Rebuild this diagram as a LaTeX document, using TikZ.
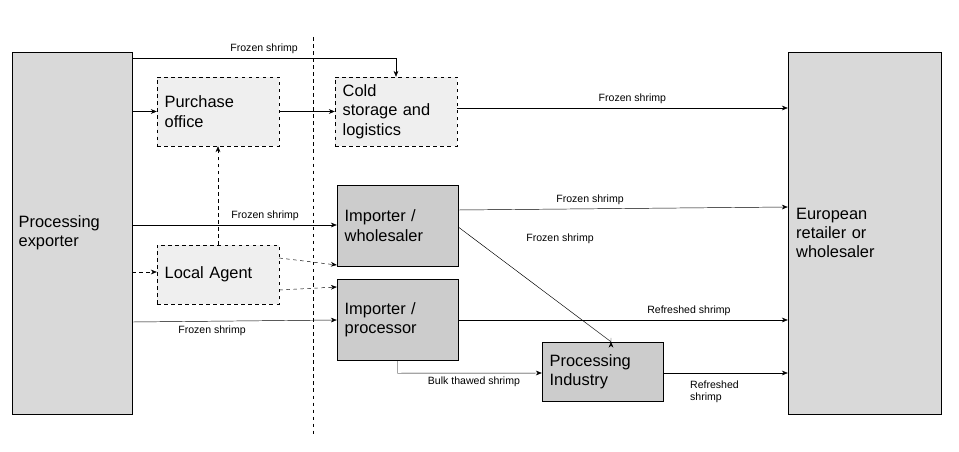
\documentclass[tikz,border=0pt]{standalone}
\usepackage{fontspec}
\setmainfont{Liberation Sans}
\usetikzlibrary{calc}
\usetikzlibrary{positioning}
\usetikzlibrary{arrows.meta}
\definecolor{boxdark}{HTML}{CCCCCC}
\definecolor{boxmid}{HTML}{D9D9D9}
\definecolor{boxlight}{HTML}{EFEFEF}

\begin{document}
\begin{tikzpicture}[x=0.03cm, y=-0.03cm]

        % Styles for the boxes and the arrows
        \tikzset{
            box/.style={draw, inner sep=0pt, align=left,
                font=\fontsize{14}{16.5}\selectfont},
            side/.style={box, fill=boxmid, minimum height=10.86cm},
            plain/.style={box, dashed, fill=boxlight, minimum width=3.66cm},
            firm/.style={box, fill=boxdark, minimum width=3.63cm},
            arr/.style={-{Stealth[length=5pt, width=4pt]}},
            lbl/.style={font=\fontsize{9}{10.5}\selectfont, align=left}
        }

        \useasboundingbox (0,0) rectangle (959,451);

        \node[side, minimum width=3.6cm, text width=3.2cm] (PE) at (72,233)
        {Processing\\exporter};
        \node[side, minimum width=4.59cm, text width=4.1cm] (EU) at (864.5,233)
        {European\\retailer or\\wholesaler};

        \node[plain, minimum height=2.07cm, text width=3.2cm] (PO) at (218,111.5)
        {Purchase\\office};
        \node[plain, minimum height=2.07cm, text width=3.2cm] (CS) at (396,111.5)
        {Cold\\storage and\\logistics};
        \node[plain, minimum height=1.77cm, text width=3.2cm] (LA) at (218,274.5)
        {Local Agent};

        \node[firm, minimum height=2.43cm, text width=3.17cm] (IW) at (397.5,225.5)
        {Importer /\\wholesaler};
        \node[firm, minimum height=2.43cm, text width=3.17cm] (IP) at (397.5,319.5)
        {Importer /\\processor};
        \node[firm, minimum height=1.77cm, text width=3.17cm] (PI) at (602.5,371.5)
        {Processing\\Industry};

        \coordinate (T1) at (313,37);
        \coordinate (T2) at (313,437);
        \draw[dashed] (T1) -- (T2);

        \begin{scope}[thin]
            \draw[arr] (PE.north east |- 0,58) -- (CS.north |- 0,58)
            node[lbl, pos=0.5, above] {Frozen shrimp} -- (CS.north);
            \draw[arr] (PE.east |- PO.west) -- (PO.west);
            \draw[arr] (PO.east) -- (CS.west);
            \draw[arr] (CS.east |- 0,108) -- (EU.west |- 0,108)
            node[lbl, pos=0.53, above] {Frozen shrimp};
            \draw[arr, dashed] (LA.north) -- (PO.south);

            \draw[arr] (PE.east |- 0,225) -- (IW.west |- 0,225)
            node[lbl, pos=0.65, above] {Frozen shrimp};
            \draw[arr, dashed] (PE.east |- 0,272) -- (LA.west |- 0,272);
            \draw[arr, dashed] (LA.east |- 0,258) -- (IW.west |- 0,265);
            \draw[arr, dashed] (LA.east |- 0,290) -- (IP.west |- 0,287);
            \draw[arr] (PE.east |- 0,322) -- (IP.west |- 0,320)
            node[lbl, pos=0.39, below] {Frozen shrimp};

            \draw[arr] (IW.east |- 0,210) -- (EU.west |- 0,207)
            node[lbl, pos=0.4, above] {Frozen shrimp};
            \draw[arr] (IW.east |- 0,227) -- (PI.north -| 611,0 |- 0,227)
            -- (PI.north -| 611,0);
            \node[lbl] (L1) at (560,239) {Frozen shrimp};
            \draw[arr] (IP.east |- 0,320) -- (EU.west |- 0,320)
            node[lbl, pos=0.7, above] {Refreshed shrimp};
            \draw[arr] (IP.south) -- ++(0,13) -- (PI.west |- 0,373)
            node[lbl, pos=0.53, below] {Bulk thawed shrimp};
            \draw[arr] (PI.east |- 0,373) -- (EU.west |- 0,373);
            \node[lbl, anchor=west] (L2) at (686,392) {Refreshed\\shrimp};
        \end{scope}

\end{tikzpicture}
\end{document}
